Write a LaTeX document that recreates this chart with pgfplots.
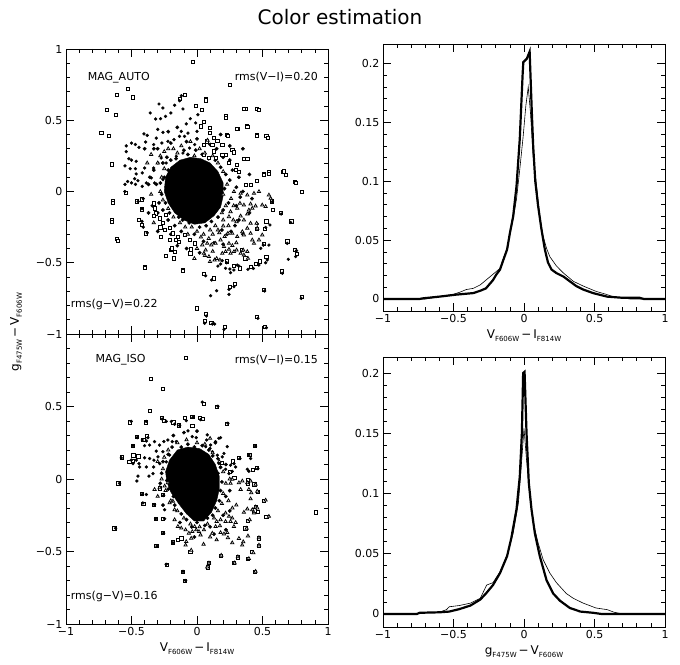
\documentclass[border=0pt]{standalone}
\usepackage{fontspec}
\setmainfont{DejaVu Sans}
\usepackage{pgfplots}
\pgfplotsset{compat=1.18}
\newcommand\lf{\fontsize{11}{13}\selectfont}
\newcommand\sub[1]{\raisebox{-0.45ex}{\fontsize{7}{8}\selectfont #1}}
\newcommand\VI{{\fontsize{12}{14}\selectfont V\sub{F606W}\,−\,I\sub{F814W}}}
\newcommand\gV{{\fontsize{12}{14}\selectfont g\sub{F475W}\,−\,V\sub{F606W}}}
\pgfplotsset{
 base/.style={scale only axis, axis line style={line width=0.9pt}, tick align=inside,
   major tick length=8pt, minor tick length=4pt, tick style={black,line width=0.7pt},
   ticklabel style={font=\lf}, xmin=-1, xmax=1, xtick={-1,-0.5,0,0.5,1},
   minor x tick num=4, clip=true},
 leftax/.style={base, width=262pt, ymin=-1, ymax=1, ytick={-1,-0.5,0,0.5,1}, minor y tick num=4},
 rightax/.style={base, width=282pt, ytick={0,0.05,0.1,0.15,0.2}, yticklabels={0,0.05,0.1,0.15,0.2},
   minor y tick num=4, xticklabels={−1,−0.5,0,0.5,1}},
 sq/.style={only marks, mark=square*, mark size=1.6pt, mark options={fill=white,draw=black,line width=0.75pt}},
 dot/.style={only marks, mark=*, mark size=1.45pt, mark options={fill=black,draw=black}},
 tri/.style={only marks, mark=triangle*, mark size=1.9pt, mark options={fill=white,draw=black,line width=0.75pt}},
 halo/.style={only marks, mark=*, mark size=1.7pt, mark options={fill=black,draw=black}},
}
\begin{document}
\begin{tikzpicture}[x=1pt,y=1pt]
\path[use as bounding box] (0pt,0pt) rectangle (680pt,664pt);
\node[font=\fontsize{20}{24}\selectfont] at (340pt,647pt) {Color estimation};
\node[rotate=90] at (16pt,332pt) {\gV};

% ---------- top left: MAG_AUTO ----------
\begin{axis}[leftax, at={(66pt,330pt)}, anchor=south west, height=285pt,
  xticklabels={}, yticklabels={−1,−0.5,0,0.5,1}]
\addplot[fill=black, draw=black] coordinates {(-0.25,0.0) (-0.24,0.1) (-0.2,0.17) (-0.13,0.22) (-0.05,0.24) (0.03,0.23) (0.1,0.2) (0.16,0.14) (0.2,0.06) (0.2,-0.03) (0.18,-0.11) (0.13,-0.17) (0.06,-0.22) (-0.02,-0.23) (-0.1,-0.2) (-0.17,-0.15) (-0.22,-0.08) (-0.25,0.0)};
\addplot[halo] coordinates {(-0.3,0.3) (-0.33,0.15) (-0.36,0.1) (-0.31,0.05) (-0.29,-0.08) (-0.34,-0.1) (-0.3,-0.15) (-0.26,-0.13) (-0.22,-0.2) (-0.17,-0.24) (-0.11,-0.2) (-0.06,-0.22) (-0.02,-0.3) (0.02,-0.25) (0.07,-0.24) (0.11,-0.21) (0.16,-0.18) (0.2,-0.13) (0.24,-0.08) (0.21,0.02) (0.25,0.08) (0.22,0.12) (0.18,0.17) (0.14,0.22) (0.09,0.23) (0.04,0.26) (-0.01,0.29) (-0.07,0.26) (-0.1,0.29) (-0.16,0.23) (-0.2,0.22) (-0.23,0.24) (-0.26,0.2) (-0.22,0.15) (-0.25,0.1) (-0.28,0.06) (-0.27,-0.02) (-0.24,-0.08) (-0.21,-0.15) (-0.14,-0.18) (0.05,-0.35) (0.13,-0.36) (0.19,-0.27) (0.23,-0.3) (0.26,-0.28) (0.29,-0.24) (0.32,-0.2) (0.3,-0.1) (0.33,-0.04) (0.3,0.03) (0.27,0.15) (0.25,0.22) (0.2,0.24) (0.15,0.3) (0.1,0.33) (0.0,0.37) (-0.08,0.35) (-0.2,0.34) (-0.33,0.3) (-0.37,0.05) (-0.37,-0.15) (-0.3,-0.28) (-0.2,-0.3) (-0.12,-0.28) (-0.15,-0.38) (-0.08,-0.4) (0.02,-0.43) (0.2,-0.37) (0.35,-0.3) (0.4,-0.15) (0.42,-0.05) (0.35,0.0) (0.32,0.1) (0.4,0.12) (0.35,0.3) (0.25,0.32) (0.18,0.4) (-0.15,0.45) (-0.22,0.42) (-0.4,0.3)};
\addplot[sq] coordinates {(-0.03,0.907) (0.25,0.75) (-0.53,0.72) (-0.61,0.68) (-0.49,0.66) (-0.69,0.57) (-0.62,0.54) (-0.73,0.41) (-0.67,0.39) (-0.65,0.19) (-0.64,-0.07) (-0.65,-0.20) (-0.61,-0.33) (-0.40,-0.53) (0.0,-0.82) (0.07,-0.86) (0.06,-0.91) (0.11,-0.92) (0.21,-0.95) (0.46,-0.88) (0.52,-0.95) (0.80,0.0) (0.75,0.07) (0.66,0.14) (0.72,-0.21) (0.64,-0.15) (0.75,-0.41) (0.76,-0.44) (0.69,-0.35) (0.65,-0.56) (0.80,-0.74) (0.51,-0.69) (0.25,-0.67) (0.29,-0.65) (0.13,-0.61) (0.05,-0.58) (-0.11,-0.55) (-0.24,-0.45) (-0.20,-0.41) (0.46,0.58) (0.37,0.58) (0.38,0.46) (0.31,0.44) (0.22,0.53) (0.07,0.65) (-0.01,0.60) (-0.09,0.68) (-0.13,0.65) (0.46,0.40) (0.53,0.39) (0.23,0.40) (0.38,0.23) (0.51,0.12) (0.55,0.14) (0.57,-0.07) (0.58,-0.13) (0.53,-0.21) (0.52,-0.26) (0.46,-0.26) (0.51,-0.37) (0.53,-0.46) (0.48,-0.49) (0.41,-0.53) (0.33,-0.54) (0.28,-0.52) (0.23,-0.49) (0.45,-0.51) (0.37,-0.47) (0.34,-0.41)
 (0.066,0.64) (0.04,0.574) (0.358,0.579) (0.475,0.572) (0.218,0.516) (0.053,0.488) (0.027,0.457) (0.1,0.446) (0.099,0.41) (0.307,0.441) (0.384,0.455) (0.46,0.392) (0.54,0.375) (0.236,0.39) (0.129,0.375) (0.155,0.357) (0.193,0.329) (0.117,0.329) (0.053,0.329) (0.078,0.352) (0.27,0.294) (0.282,0.275) (0.358,0.228) (0.384,0.228) (0.193,0.258) (0.218,0.258) (0.244,0.2) (0.307,0.188) (0.295,0.153) (0.32,0.137) (0.51,0.114) (0.55,0.123) (0.664,0.141) (0.676,0.118) (0.753,0.06) (0.46,0.076) (0.409,0.048) (0.371,0.048) (0.129,0.282) (0.142,0.235) (0.091,0.235) (0.053,0.258)
 (-0.545,-0.008) (-0.642,-0.078) (-0.647,-0.212) (-0.604,-0.345) (-0.40,-0.535) (-0.108,-0.556) (-0.459,-0.07) (-0.418,-0.055) (-0.418,-0.125) (-0.443,-0.2) (-0.418,-0.235) (-0.392,-0.294) (-0.331,-0.083) (-0.324,-0.118) (-0.311,-0.153) (-0.331,-0.172) (-0.285,-0.188) (-0.24,-0.165) (-0.26,-0.223) (-0.28,-0.252) (-0.247,-0.27) (-0.209,-0.258) (-0.184,-0.294) (-0.273,-0.317) (-0.209,-0.34) (-0.163,-0.34) (-0.146,-0.317) (-0.189,-0.399) (-0.171,-0.422) (-0.179,-0.469) (-0.24,-0.45) (-0.138,-0.352) (-0.095,-0.305) (-0.056,-0.34) (-0.018,-0.364) (-0.044,-0.406) (-0.051,-0.434)};
\addplot[dot] coordinates {(-0.54,0.32) (-0.50,0.34) (-0.47,0.33) (-0.54,0.28) (-0.52,0.23) (-0.50,0.22) (-0.55,0.18) (-0.51,0.16) (-0.47,0.16) (-0.53,0.07) (-0.55,0.05) (-0.50,0.06) (-0.47,0.05) (-0.55,0.0) (-0.45,-0.07) (-0.41,-0.05) (-0.42,-0.12) (-0.42,-0.21) (-0.41,-0.25) (-0.38,-0.29)
 (-0.443,0.31) (-0.392,0.347) (-0.405,0.404) (-0.38,0.394) (-0.29,0.614) (-0.26,0.586) (-0.357,0.551) (-0.316,0.509) (-0.278,0.511) (-0.24,0.527) (-0.2,0.551) (-0.171,0.605) (-0.12,0.672) (-0.133,0.637) (-0.107,0.579) (-0.3,0.436) (-0.26,0.415) (-0.311,0.375) (-0.268,0.34) (-0.4,0.165) (-0.418,0.13) (-0.464,0.212) (-0.464,0.123) (-0.476,0.09) (-0.451,0.076) (-0.418,0.036) (-0.349,0.095) (-0.387,0.06) (-0.324,0.06) (-0.331,0.165) (-0.298,0.2) (-0.235,0.2) (-0.273,0.235) (-0.331,0.329) (-0.222,0.352) (-0.176,0.364) (-0.133,0.387) (-0.095,0.387) (-0.12,0.422) (-0.069,0.41) (-0.158,0.247) (-0.107,0.27) (-0.057,0.305) (-0.018,0.329) (0.0,0.422) (-0.01,0.481) (-0.082,0.474) (-0.051,0.511) (0.007,0.539) (-0.184,0.165) (-0.133,0.188) (-0.209,0.118) (-0.26,0.083) (-0.235,0.036)
 (0.575,-0.072) (0.643,-0.158) (0.715,-0.217) (0.689,-0.364) (0.76,-0.415) (0.753,-0.457) (0.697,-0.476) (0.651,-0.574) (0.796,-0.75) (0.516,-0.698) (0.282,-0.668) (0.244,-0.687) (0.244,-0.722) (0.15,-0.696) (0.111,-0.621) (0.066,-0.591) (0.104,-0.731) (0.071,-0.874) (0.117,-0.93) (0.134,-0.93) (0.058,-0.925) (0.206,-0.967) (0.465,-0.89) (0.529,-0.956) (0.557,-0.235) (0.524,-0.252) (0.46,-0.228) (0.536,-0.48) (0.524,-0.5) (0.473,-0.516) (0.43,-0.54) (0.389,-0.546) (0.307,-0.516) (0.32,-0.523) (0.282,-0.551) (0.256,-0.57) (0.251,-0.544) (0.218,-0.539) (0.18,-0.509) (0.16,-0.523) (0.193,-0.485) (0.226,-0.5) (0.549,-0.376) (0.506,-0.376) (0.486,-0.399)};
\addplot[tri] coordinates {(0.384,-0.422) (0.389,-0.469) (0.358,-0.446) (0.333,-0.434) (0.302,-0.411) (0.353,-0.411) (0.256,-0.434) (0.282,-0.422) (0.244,-0.406) (0.218,-0.422) (0.193,-0.434) (0.175,-0.481) (0.134,-0.481) (0.091,-0.457) (0.099,-0.492) (0.066,-0.411) (0.053,-0.434) (0.04,-0.375) (0.078,-0.364) (0.109,-0.375) (0.142,-0.364) (0.18,-0.34) (0.206,-0.387) (0.244,-0.364) (0.16,-0.27) (0.2,-0.242) (0.211,-0.317) (0.236,-0.294) (0.269,-0.294) (0.307,-0.317) (0.346,-0.282) (0.358,-0.305) (0.409,-0.294) (0.422,-0.34) (0.435,-0.364) (0.473,-0.34) (0.498,-0.305) (0.46,-0.258) (0.455,-0.223) (0.409,-0.223) (0.384,-0.258) (0.384,-0.158) (0.396,-0.13) (0.422,-0.118) (0.447,-0.102) (0.498,-0.095) (0.524,-0.106) (0.409,-0.088) (0.358,-0.095) (0.328,-0.083) (0.307,-0.118) (0.256,-0.142) (0.244,-0.177) (0.277,-0.2) (0.302,-0.212) (0.333,-0.172) (0.358,-0.2) (0.549,-0.025) (0.562,-0.048) (0.473,-0.001) (0.435,-0.013) (0.384,-0.025) (0.333,-0.013) (0.282,-0.001)
 (-0.28,0.25) (-0.25,0.28) (-0.22,0.3) (-0.18,0.3) (-0.12,0.32) (-0.05,0.35) (0.02,0.3) (0.06,0.27) (0.12,0.25) (0.16,0.2) (0.2,0.14) (0.23,0.05) (0.2,-0.02) (0.22,-0.1) (0.19,-0.15) (0.2,-0.2) (0.14,-0.24) (0.1,-0.27) (0.05,-0.3) (0.0,-0.28) (-0.04,-0.25) (-0.09,-0.25) (-0.13,-0.22) (-0.18,-0.18) (-0.22,-0.12) (-0.26,-0.06) (-0.28,0.0) (-0.27,0.1) (-0.25,0.16) (-0.3,0.2) (0.03,-0.32) (0.09,-0.33) (-0.07,-0.3) (0.24,-0.24) (0.26,-0.05) (0.28,-0.1) (0.12,-0.3) (0.17,-0.29) (-0.02,0.25) (0.08,0.36) (-0.15,0.27) (-0.35,0.26) (-0.38,0.2) (-0.35,-0.02) (-0.33,-0.22) (0.0,-0.4) (0.06,-0.45) (-0.02,-0.47) (0.12,-0.42) (0.15,-0.47) (0.3,-0.36) (0.27,-0.38)};
\node[anchor=west, font=\lf] at (axis cs:-0.86,0.80) {MAG\_AUTO};
\node[anchor=east, font=\lf] at (axis cs:0.95,0.80) {rms(V−I)=0.20};
\node[anchor=west, font=\lf] at (axis cs:-0.99,-0.79) {rms(g−V)=0.22};
\end{axis}

% ---------- bottom left: MAG_ISO ----------
\begin{axis}[leftax, at={(66pt,40pt)}, anchor=south west, height=290pt,
  xticklabels={−1,−0.5,0,0.5,1}, yticklabels={−1,−0.5,0,0.5,{}}, xlabel={\VI}]
\addplot[fill=black, draw=black] coordinates {(-0.24,0.05) (-0.21,0.13) (-0.15,0.2) (-0.07,0.22) (0.02,0.21) (0.09,0.17) (0.14,0.1) (0.17,0.02) (0.17,-0.07) (0.15,-0.15) (0.11,-0.23) (0.05,-0.29) (-0.02,-0.29) (-0.08,-0.24) (-0.14,-0.17) (-0.2,-0.09) (-0.23,-0.02) (-0.24,0.05)};
\addplot[halo] coordinates {(-0.26,0.12) (-0.22,0.17) (-0.19,0.22) (-0.12,0.22) (-0.07,0.24) (-0.02,0.22) (0.04,0.23) (0.09,0.2) (0.12,0.16) (0.16,0.14) (0.18,0.08) (0.16,0.04) (0.19,-0.02) (0.18,-0.08) (0.17,-0.15) (0.14,-0.2) (0.12,-0.25) (0.08,-0.27) (0.06,-0.32) (0.0,-0.3) (-0.04,-0.33) (-0.08,-0.28) (-0.12,-0.24) (-0.17,-0.18) (-0.18,-0.12) (-0.22,-0.07) (-0.23,-0.01) (-0.27,0.04) (-0.2,0.08) (0.22,-0.12) (0.25,-0.08) (0.22,0.1) (0.14,0.25) (-0.1,0.32) (-0.18,0.3) (0.0,0.33) (-0.28,-0.03) (-0.26,-0.18) (-0.13,-0.3) (0.1,-0.33) (0.2,-0.25) (0.25,-0.22) (0.22,-0.35) (0.13,-0.38) (-0.02,-0.4)};
\addplot[sq] coordinates {(-0.087,0.834) (-0.35,0.69) (-0.26,0.62) (0.05,0.52) (0.15,0.50) (-0.36,0.47) (0.23,0.38) (-0.51,0.39) (-0.39,0.39) (-0.27,0.42) (-0.25,0.40) (-0.18,0.39) (-0.14,0.37) (-0.60,-0.03) (-0.63,-0.34) (-0.49,0.23) (-0.094,0.419) (-0.035,0.428) (0.02,0.419) (-0.035,0.365) (0.046,0.412) (-0.575,0.149) (-0.516,0.116) (-0.491,0.126) (-0.486,0.163) (-0.448,0.156) (-0.456,0.288) (-0.41,0.272) (-0.385,0.295) (-0.42,-0.10) (-0.41,-0.17) (-0.33,-0.18) (-0.258,-0.274) (-0.316,-0.274) (-0.258,-0.112) (-0.284,-0.065) (-0.26,-0.37) (-0.31,-0.46) (-0.23,-0.59) (-0.182,-0.437) (-0.149,-0.419) (-0.119,-0.409) (-0.11,-0.64) (-0.09,-0.70) (-0.05,-0.50) (0.08,-0.61) (0.09,-0.58) (0.18,-0.53) (0.28,-0.58) (0.31,-0.54) (0.39,-0.55) (0.44,-0.64) (0.42,-0.50) (0.47,-0.46) (0.47,-0.41) (0.37,-0.34) (0.39,-0.29) (0.53,-0.26) (0.51,-0.15) (0.451,-0.193) (0.463,-0.228) (0.438,-0.216) (0.91,-0.23) (0.44,0.23) (0.319,0.144) (0.4,0.167) (0.425,0.063) (0.456,0.074) (0.387,-0.007) (0.387,-0.03) (0.438,-0.037) (0.463,-0.088) (0.192,0.109) (0.248,0.051) (0.273,0.121) (0.286,0.005)};
\addplot[dot] coordinates {(-0.502,0.397) (-0.387,0.397) (-0.265,0.413) (-0.235,0.397) (-0.196,0.397) (-0.171,0.378) (-0.133,0.369) (-0.082,0.402) (-0.031,0.425) (-0.069,0.332) (-0.036,0.292) (-0.006,0.285) (-0.456,0.285) (-0.418,0.269) (-0.387,0.262) (-0.375,0.285) (-0.489,0.23) (-0.4,0.23) (-0.362,0.234) (-0.324,0.258) (-0.286,0.234) (-0.253,0.258) (-0.222,0.269) (-0.189,0.258) (-0.158,0.258) (-0.578,0.146) (-0.502,0.13) (-0.464,0.13) (-0.443,0.106) (-0.489,0.106) (-0.4,0.146) (-0.362,0.141) (-0.329,0.13) (-0.298,0.153) (-0.438,0.083) (-0.387,0.083) (-0.331,0.083) (-0.451,0.02) (-0.367,0.02) (-0.336,0.037) (-0.285,0.106) (-0.235,0.118) (-0.209,0.165) (-0.26,0.188) (-0.311,0.192)
 (0.04,0.53) (0.16,0.502) (0.027,0.409) (0.236,0.385) (0.078,0.304) (0.073,0.269) (0.104,0.234) (0.142,0.258) (0.167,0.281) (0.18,0.285) (0.231,0.223) (0.447,0.227) (0.396,0.165) (0.409,0.141) (0.328,0.141) (0.206,0.176) (0.193,0.153) (0.155,0.164) (0.117,0.188) (0.099,0.211) (0.066,0.223) (0.465,0.071) (0.384,0.067) (0.396,0.053) (0.282,0.106) (0.256,0.095) (0.295,0.083) (0.269,0.053) (0.167,0.106) (0.18,0.083) (0.218,0.067) (0.244,0.037)
 (-0.591,-0.03) (-0.621,-0.34) (-0.459,-0.014) (-0.418,-0.107) (-0.387,-0.107) (-0.413,-0.165) (-0.324,-0.177) (-0.255,-0.114) (-0.247,-0.212) (-0.316,-0.274) (-0.247,-0.274) (-0.255,-0.374) (-0.306,-0.463) (-0.184,-0.44) (-0.235,-0.588) (-0.107,-0.637) (-0.087,-0.7)};
\addplot[tri] coordinates {(-0.171,-0.281) (-0.146,-0.328) (-0.12,-0.339) (-0.087,-0.351) (-0.062,-0.374) (-0.036,-0.363) (-0.082,-0.432) (-0.087,-0.456) (-0.044,-0.409) (-0.018,-0.328) (-0.006,-0.351) (-0.044,-0.491) (-0.324,-0.072) (-0.285,-0.06) (-0.247,-0.049) (-0.222,-0.026) (-0.209,-0.165) (-0.184,-0.153) (-0.171,-0.212)
 (0.549,-0.258) (0.524,-0.146) (0.447,-0.637) (0.396,-0.549) (0.43,-0.509) (0.473,-0.456) (0.473,-0.405) (0.345,-0.456) (0.353,-0.433) (0.32,-0.41) (0.389,-0.393) (0.379,-0.34) (0.402,-0.281) (0.312,-0.537) (0.287,-0.579) (0.269,-0.44) (0.236,-0.405) (0.231,-0.37) (0.206,-0.379) (0.18,-0.37) (0.175,-0.323) (0.185,-0.526) (0.091,-0.579) (0.078,-0.607) (0.282,-0.328) (0.295,-0.3) (0.256,-0.293) (0.244,-0.258) (0.269,-0.27) (0.218,-0.235) (0.447,-0.193) (0.46,-0.2) (0.422,-0.212) (0.435,-0.235) (0.358,-0.23) (0.384,-0.207) (0.409,-0.137) (0.414,-0.095) (0.396,-0.072) (0.384,-0.026) (0.409,-0.014) (0.447,-0.037) (0.46,-0.084) (0.333,-0.072) (0.32,-0.026) (0.346,-0.014) (0.269,-0.002) (0.256,-0.03) (0.117,-0.374) (0.053,-0.351) (0.027,-0.386) (0.015,-0.363) (0.142,-0.328) (0.15,-0.293) (0.18,-0.281) (0.218,-0.293)
 (-0.25,0.15) (-0.22,0.2) (-0.15,0.25) (-0.08,0.27) (0.0,0.25) (0.06,0.24) (0.12,0.18) (0.17,0.12) (0.2,0.05) (0.22,-0.03) (0.2,-0.1) (0.19,-0.17) (0.16,-0.22) (0.13,-0.27) (0.08,-0.31) (0.02,-0.33) (-0.05,-0.31) (-0.1,-0.27) (-0.15,-0.22) (-0.2,-0.15) (-0.24,-0.08) (-0.27,0.0) (-0.26,0.07) (-0.3,0.12) (0.1,0.28) (0.24,-0.15) (0.27,-0.2) (0.3,-0.18) (0.25,0.0) (-0.3,-0.12) (0.1,-0.4) (0.15,-0.42) (0.05,-0.45)};
\node[anchor=west, font=\lf] at (axis cs:-0.80,0.82) {MAG\_ISO};
\node[anchor=east, font=\lf] at (axis cs:0.95,0.82) {rms(V−I)=0.15};
\node[anchor=west, font=\lf] at (axis cs:-0.99,-0.81) {rms(g−V)=0.16};
\end{axis}

% ---------- top right ----------
\begin{axis}[rightax, at={(383pt,353pt)}, anchor=south west, height=267pt,
  ymin=-0.0102, ymax=0.2165, xlabel={\VI}]
\addplot[black, line width=0.6pt] coordinates {(-1,0) (-0.7,0) (-0.6,0.002) (-0.5,0.004) (-0.45,0.006) (-0.41,0.008) (-0.36,0.009) (-0.31,0.012) (-0.27,0.016) (-0.22,0.021) (-0.17,0.026) (-0.15,0.033) (-0.12,0.043) (-0.1,0.056) (-0.077,0.068) (-0.053,0.085) (-0.03,0.11) (-0.006,0.138) (0.013,0.164) (0.03,0.18) (0.046,0.158) (0.065,0.121) (0.089,0.096) (0.112,0.07) (0.136,0.053) (0.16,0.043) (0.183,0.036) (0.23,0.028) (0.28,0.022) (0.35,0.015) (0.42,0.011) (0.51,0.0065) (0.59,0.0037) (0.63,0.002) (0.7,0.001) (0.75,0) (1,0)};
\addplot[black, line width=2.2pt] coordinates {(-1,0) (-0.74,0) (-0.72,0.0005) (-0.6,0.002) (-0.48,0.0037) (-0.36,0.005) (-0.31,0.007) (-0.27,0.009) (-0.22,0.016) (-0.195,0.021) (-0.17,0.025) (-0.15,0.032) (-0.12,0.042) (-0.10,0.056) (-0.077,0.07) (-0.053,0.096) (-0.03,0.136) (-0.01,0.19) (-0.005,0.201) (0.02,0.204) (0.04,0.21) (0.055,0.16) (0.065,0.13) (0.08,0.1) (0.1,0.079) (0.124,0.059) (0.148,0.042) (0.17,0.031) (0.195,0.025) (0.23,0.022) (0.28,0.019) (0.325,0.015) (0.37,0.011) (0.42,0.008) (0.49,0.005) (0.59,0.002) (0.70,0.001) (0.82,0.001) (0.85,0) (1,0)};
\end{axis}

% ---------- bottom right ----------
\begin{axis}[rightax, at={(383pt,37pt)}, anchor=south west, height=270pt,
  ymin=-0.0108, ymax=0.2133, xlabel={\gV}]
\addplot[black, line width=0.6pt] coordinates {(-1,0) (-0.78,0) (-0.7,0.001) (-0.6,0.0015) (-0.55,0.0036) (-0.53,0.006) (-0.46,0.007) (-0.38,0.009) (-0.31,0.013) (-0.265,0.024) (-0.22,0.026) (-0.17,0.035) (-0.12,0.049) (-0.077,0.067) (-0.04,0.092) (-0.018,0.125) (0.0,0.154) (0.018,0.128) (0.041,0.098) (0.065,0.076) (0.1,0.059) (0.136,0.045) (0.183,0.034) (0.23,0.026) (0.3,0.017) (0.35,0.013) (0.42,0.009) (0.51,0.005) (0.59,0.0036) (0.64,0.0014) (0.7,0) (1,0)};
\addplot[black, line width=2.2pt] coordinates {(-1,0) (-0.76,0) (-0.74,0.001) (-0.6,0.0014) (-0.53,0.002) (-0.46,0.004) (-0.38,0.007) (-0.31,0.012) (-0.27,0.017) (-0.22,0.024) (-0.17,0.034) (-0.12,0.048) (-0.09,0.063) (-0.053,0.087) (-0.03,0.114) (-0.015,0.15) (-0.006,0.2) (0.004,0.201) (0.018,0.15) (0.034,0.109) (0.053,0.087) (0.077,0.067) (0.112,0.048) (0.16,0.028) (0.207,0.017) (0.255,0.011) (0.325,0.005) (0.4,0.002) (0.49,0.001) (0.55,0) (1,0)};
\end{axis}
\end{tikzpicture}
\end{document}
